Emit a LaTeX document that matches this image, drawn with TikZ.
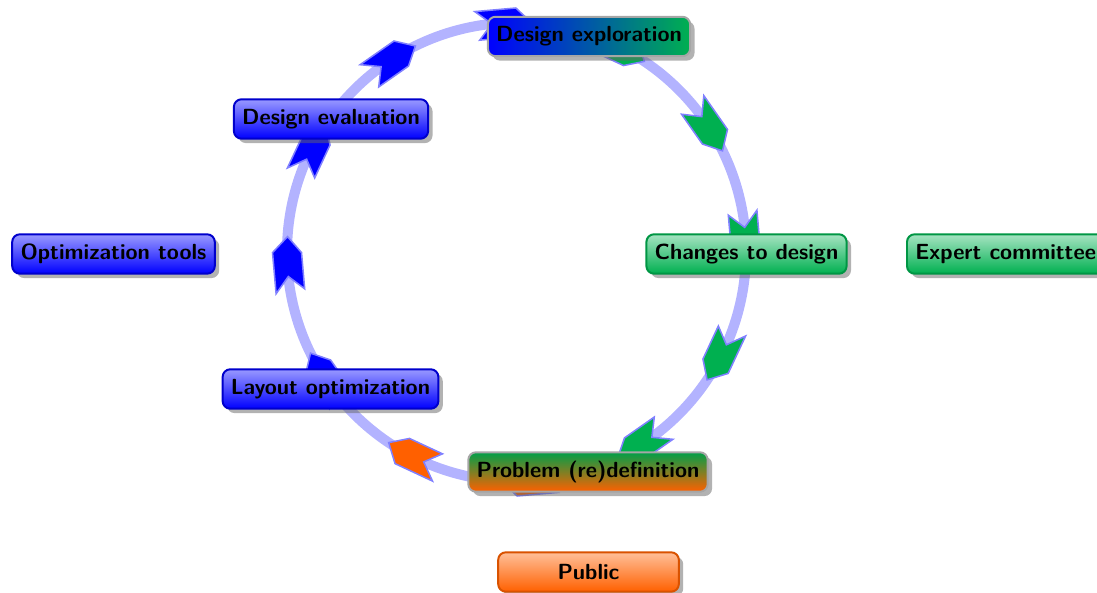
\documentclass[tikz,border=0pt]{standalone}
\usetikzlibrary{shadows}
\definecolor{agreen}{RGB}{0,176,80}
\definecolor{aorange}{RGB}{255,96,0}
\definecolor{ablue}{RGB}{0,0,255}
\definecolor{ringc}{RGB}{179,179,255}
\definecolor{aedge}{RGB}{128,128,255}
\tikzset{
  module/.style={rounded corners=3.5pt, line width=0.9pt, minimum width=82.5pt,
    minimum height=18pt, inner xsep=3.8pt, inner ysep=2pt,
    font=\sffamily\bfseries, text=black,
    drop shadow={shadow xshift=2pt, shadow yshift=-2pt, opacity=0.5, fill=black!60}},
  bluemod/.style={module, draw=blue!80!black, top color=blue!40, bottom color=ablue},
  greenmod/.style={module, draw=agreen!85!black, top color=agreen!35, bottom color=agreen},
  orangemod/.style={module, draw=aorange!85!black, top color=aorange!40, bottom color=aorange},
  mixlr/.style={module, draw=gray!70, left color=ablue, right color=agreen},
  mixtb/.style={module, draw=gray!70, top color=agreen!90!black, bottom color=aorange},
  ring/.style={draw=ringc, line width=4.6pt},
  chevron/.style={draw=aedge, line width=0.7pt, line join=miter}
}
\begin{document}
\begin{tikzpicture}[x=0.4566pt, y=0.4566pt]
\useasboundingbox (0,0) rectangle (1097,592);
\coordinate (C) at (516.5,340);
\draw[ring] (C) circle [radius=229.5];
\begin{scope}[shift={(C)}]
\foreach \a/\c in {63/agreen, 33/agreen, 3/agreen, -27/agreen, -57/agreen,
  -87/aorange, -117/aorange, -147/ablue, -177/ablue, 153/ablue, 123/ablue, 93/ablue}{
  \filldraw[chevron, fill=\c] ({\a-6.85}:229.5) -- ({\a-2.85}:244) -- ({\a+6.85}:244)
    -- ({\a+3.15}:229.5) -- ({\a+6.85}:215) -- ({\a-2.85}:215) -- cycle;
}
\end{scope}
\node[mixlr] (explo) at (589,555.5) {Design exploration};
\node[greenmod] (changes) at (746.5,338) {Changes to design};
\node[mixtb] (problem) at (588,120) {Problem (re)definition};
\node[bluemod] (layout) at (330.5,203) {Layout optimization};
\node[bluemod] (evalu) at (331,473) {Design evaluation};
\node[bluemod] (tools) at (113.5,338) {Optimization tools};
\node[greenmod, anchor=west] (expert) at (906,338) {Expert committee};
\node[orangemod] (public) at (588.5,20) {Public};
\end{tikzpicture}
\end{document}
